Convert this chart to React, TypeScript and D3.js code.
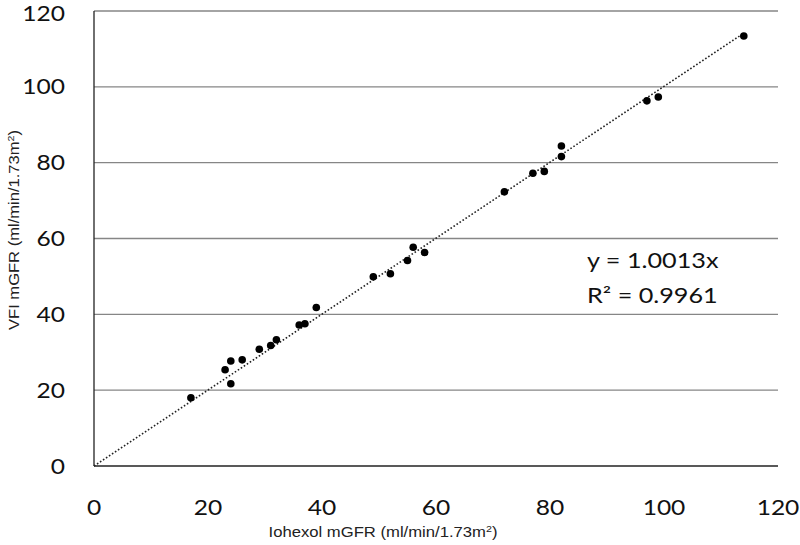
import React from "react";
import * as d3 from "d3";

const iohexol = [17, 24, 23, 24, 26, 29, 31, 32, 36, 37, 39, 49, 52, 55, 56, 58, 72, 77, 79, 82, 82, 97, 99, 114];
const vfi = [18.0, 21.7, 25.4, 27.7, 28.0, 30.8, 31.8, 33.3, 37.2, 37.5, 41.8, 49.9, 50.7, 54.2, 57.7, 56.3, 72.3, 77.2, 77.7, 81.6, 84.4, 96.3, 97.3, 113.4];
const xTicks = [0, 20, 40, 60, 80, 100, 120];
const yTicks = [0, 20, 40, 60, 80, 100, 120];
const slope = 1.0013;
const trendRange = [0, 114];
const eqLine1 = "y = 1.0013x";
const eqLine2 = "R² = 0.9961";

export default function App() {
  const W = 800, H = 545;
  const x = d3.scaleLinear().domain([0, 120]).range([94, 778]);
  const y = d3.scaleLinear().domain([0, 120]).range([466, 11]);
  const pts = iohexol.map((v, i) => [v, vfi[i]] as [number, number]);
  const trend = d3.line<number>().x((d) => x(d)).y((d) => y(d * slope))(trendRange);
  const tickFont = "Lato, 'Open Sans', sans-serif";
  const sx = 1.17;
  return (
    <svg width={W} height={H} style={{ position: "absolute", left: 0, top: 0, background: "#fff" }}>
      <rect width={W} height={H} fill="#fff" />
      {yTicks.filter((t) => t > 0).map((t) => (
        <line key={t} x1={x(0)} x2={x(120)} y1={y(t)} y2={y(t)} stroke="#868686" strokeWidth={1.3} />
      ))}
      <line x1={x(0)} x2={x(120)} y1={y(0)} y2={y(0)} stroke="#222" strokeWidth={1.3} />
      <line x1={x(0)} x2={x(0)} y1={y(0)} y2={y(120)} stroke="#222" strokeWidth={1.3} />
      <path d={trend || ""} fill="none" stroke="#222" strokeWidth={1.6} strokeDasharray="1.6,2" />
      {pts.map((p, i) => (
        <circle key={i} cx={x(p[0])} cy={y(p[1])} r={3.8} fill="#000" />
      ))}
      {yTicks.map((t) => (
        <g key={t} transform={`translate(65,${Math.max(y(t), 13)}) scale(${sx},1)`}>
          <text x={0} y={0} dy="0.36em" textAnchor="end" fontFamily={tickFont} fontSize={21} fill="#111">
            {t}
          </text>
        </g>
      ))}
      {xTicks.map((t) => (
        <g key={t} transform={`translate(${x(t)},507) scale(${sx},1)`}>
          <text x={0} y={0} dy="0.36em" textAnchor="middle" fontFamily={tickFont} fontSize={21} fill="#111">
            {t}
          </text>
        </g>
      ))}
      <g transform={`translate(587,0) scale(1.2,1)`}>
        <text x={0} y={268} fontFamily={tickFont} fontSize={21} fill="#111">{eqLine1}</text>
        <text x={0} y={303} fontFamily={tickFont} fontSize={21} fill="#111">{eqLine2}</text>
      </g>
      <text x={383} y={537} textAnchor="middle" fontFamily="'Liberation Sans', Arial, sans-serif" fontSize={14} fill="#222" textLength={229} lengthAdjust="spacingAndGlyphs">
        Iohexol mGFR (ml/min/1.73m<tspan fontSize={9} dy={-5}>2</tspan><tspan dy={5}>)</tspan>
      </text>
      <text transform="translate(19,230) rotate(-90)" textAnchor="middle" fontFamily="'Liberation Sans', Arial, sans-serif" fontSize={14} fill="#222" textLength={200} lengthAdjust="spacingAndGlyphs">
        VFI mGFR (ml/min/1.73m<tspan fontSize={9} dy={-5}>2</tspan><tspan dy={5}>)</tspan>
      </text>
    </svg>
  );
}
